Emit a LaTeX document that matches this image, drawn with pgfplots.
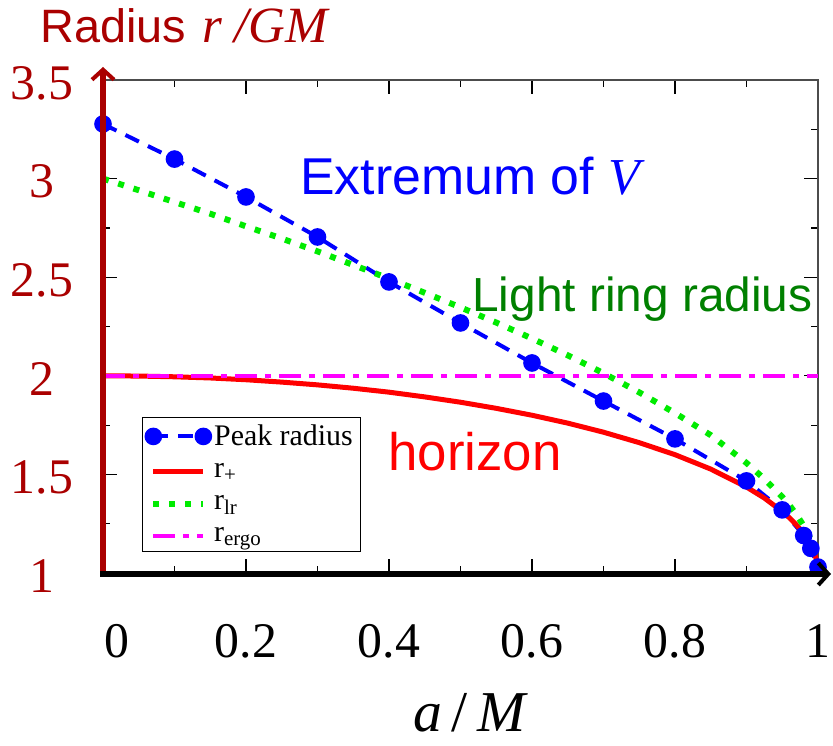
\documentclass[border=0pt]{standalone}
\usepackage{pgfplots}
\pgfplotsset{compat=1.18}
\usepackage{fontspec}
\setmainfont{Liberation Serif}
\newfontfamily\arial{Liberation Sans}
\usetikzlibrary{arrows.meta}
\definecolor{dred}{RGB}{170,0,0}
\definecolor{lgreen}{RGB}{0,235,0}
\definecolor{dgreen}{RGB}{0,128,0}
\definecolor{mag}{RGB}{255,0,255}
\begin{document}
\begin{tikzpicture}
\useasboundingbox (-51.5bp,-86.5bp) rectangle (365bp,286.5bp);
\begin{axis}[
  at={(0,0)}, anchor=south west,
  width=357.5bp, height=246.5bp, scale only axis,
  xmin=0, xmax=1, ymin=1, ymax=3.5,
  clip=false,
  xtick={0,0.2,0.4,0.6,0.8,1},
  xticklabels={\hspace{14bp}0,0.2,0.4,0.6,0.8,1\hspace{6bp}},
  minor xtick={0.1,0.3,0.5,0.7,0.9},
  ytick={1,1.5,2,2.5,3,3.5},
  minor ytick={1.25,1.75,2.25,2.75,3.25},
  tick align=inside,
  major tick length=7bp, minor tick length=3.5bp,
  axis line style={draw=black!70, line width=0.8bp},
  every tick/.style={black, line width=0.6bp},
  tick label style={font=\fontsize{25}{25}\selectfont},
  /pgf/number format/assume math mode=true,
  xticklabel style={anchor=center, yshift=-34bp},
  yticklabel style={anchor=center, xshift=-30.5bp, yshift=-1.5bp, text=dred},
  xlabel={\fontsize{29}{29}\selectfont\textit{a}\,/\,\textit{M}},
  xlabel style={at={(axis description cs:0.5,0)}, anchor=center, yshift=-70bp, xshift=5bp},
  legend image code/.code={\draw[#1] plot coordinates {(0bp,0bp) (25bp,0bp)};},
  legend style={at={(0.0545,0.0426)}, anchor=south west, draw=black, line width=0.6bp,
    font=\fontsize{15}{16}\selectfont, inner xsep=2bp, inner ysep=1.5bp, row sep=3.5bp},
  legend cell align=left,
]
\addplot[blue, line width=2bp, dash pattern=on 7.5bp off 5bp, mark=*, mark size=3.4bp, mark options={solid}]
coordinates {(0,3.277) (0.1,3.099) (0.2,2.907) (0.3,2.704) (0.4,2.476) (0.5,2.268) (0.6,2.065) (0.7,1.872) (0.8,1.680) (0.9,1.467) (0.95,1.32) (0.98,1.19) (0.99,1.125) (1.0,1.03)};
\addlegendentry{Peak radius}
\addplot[red, line width=2.5bp]
coordinates {(0,2) (0.05,1.9987) (0.1,1.995) (0.15,1.989) (0.2,1.980) (0.25,1.968) (0.3,1.954) (0.35,1.937) (0.4,1.917) (0.45,1.893) (0.5,1.866) (0.55,1.835) (0.6,1.8) (0.65,1.760) (0.7,1.714) (0.75,1.661) (0.8,1.6) (0.85,1.527) (0.9,1.436) (0.925,1.380) (0.95,1.312) (0.96,1.28) (0.97,1.243) (0.975,1.222) (0.98,1.199) (0.985,1.173) (0.99,1.141) (0.995,1.100) (0.9975,1.0707) (0.999,1.0447) (1,1)};
\addlegendentry{r\textsubscript{+}}
\addplot[lgreen, line width=3bp, dash pattern=on 3bp off 5bp]
coordinates {(0,3) (0.05,2.941) (0.1,2.881) (0.15,2.822) (0.2,2.758) (0.25,2.696) (0.3,2.631) (0.35,2.562) (0.4,2.493) (0.45,2.421) (0.5,2.347) (0.55,2.270) (0.6,2.189) (0.65,2.104) (0.7,2.013) (0.75,1.916) (0.8,1.811) (0.85,1.699) (0.9,1.558) (0.925,1.477) (0.95,1.386) (0.96,1.344) (0.97,1.296) (0.98,1.239) (0.99,1.168) (0.995,1.118) (0.9975,1.082) (0.999,1.052) (1,1)};
\addlegendentry{r\textsubscript{lr}}
\addplot[mag, line width=2bp, dash pattern=on 11bp off 4bp on 3bp off 4bp]
coordinates {(0,2) (1,2)};
\addlegendentry{r\textsubscript{ergo}}
\node[anchor=base west, inner sep=0, text=blue, font={\arial\fontsize{26}{26}\selectfont}] at (axis cs:0.2755,2.917) {Extremum of {\rmfamily\itshape V}};
\node[anchor=base west, inner sep=0, text=dgreen, font={\arial\fontsize{24}{24}\selectfont}] at (axis cs:0.516,2.324) {Light ring radius};
\node[anchor=base west, inner sep=0, text=red, font={\arial\fontsize{26.5}{26.5}\selectfont}] at (axis cs:0.3986,1.522) {horizon};
\end{axis}
\draw[dred, line width=2.5bp, -{Straight Barb[length=5bp,width=11bp,line width=2bp]}] (0,-1bp) -- (0,253bp);
\draw[black, line width=2.75bp, -{Straight Barb[length=5bp,width=11bp,line width=2bp]}] (-1.5bp,-0.5bp) -- (364bp,-0.5bp);
\node[anchor=base, text=dred, inner sep=0] at (40.5bp,265bp) {{\arial\fontsize{23.5}{24}\selectfont Radius}\hspace{8bp}{\fontsize{25.5}{26}\selectfont\itshape r /GM}};
\end{tikzpicture}
\end{document}
